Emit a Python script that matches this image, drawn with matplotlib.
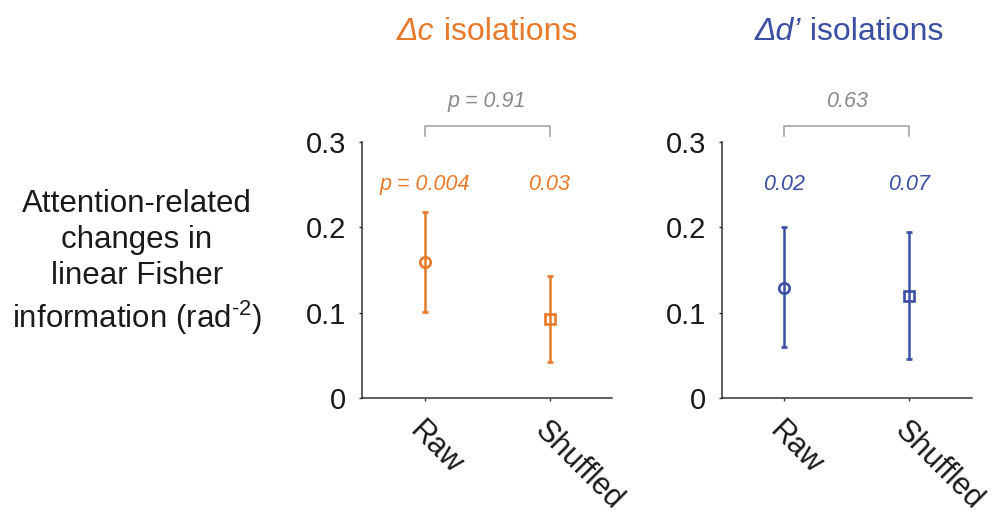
import numpy as np
import matplotlib
matplotlib.use("Agg")
import matplotlib.pyplot as plt
from matplotlib.transforms import ScaledTranslation

plt.rcParams['font.family'] = ['Liberation Sans', 'DejaVu Sans']
plt.rcParams['mathtext.fontset'] = 'custom'
plt.rcParams['mathtext.rm'] = 'Liberation Sans'
plt.rcParams['mathtext.it'] = 'Liberation Sans:italic'

# data
conditions = ['Raw', 'Shuffled']
c_mean = [0.159, 0.093]
c_low = [0.101, 0.042]
c_high = [0.218, 0.143]
c_pvals = ['p = 0.004', '0.03']
c_pdiff = 'p = 0.91'

d_mean = [0.129, 0.119]
d_low = [0.060, 0.046]
d_high = [0.200, 0.194]
d_pvals = ['0.02', '0.07']
d_pdiff = '0.63'

yticks = [0, 0.1, 0.2, 0.3]
ytick_labels = ['0', '0.1', '0.2', '0.3']

orange = '#E8792B'
blue = '#3B4FA3'
gray_txt = '#8A8A8A'
gray_line = '#A6A6A6'
dark = '#333333'

fig = plt.figure(figsize=(9.95, 5.18), dpi=100)
W, H = 995, 518
ax1 = fig.add_axes([362/W, 1-398/H, 250/W, 256/H])
ax2 = fig.add_axes([722/W, 1-398/H, 250/W, 256/H])

def draw_panel(ax, mean, low, high, pvals, pdiff, color):
    x = np.arange(1, len(mean)+1)
    mean = np.array(mean)
    err = [mean - np.array(low), np.array(high) - mean]
    markers = ['o', 's']
    sizes = [7.5, 6.8]
    for i in range(len(x)):
        ax.errorbar(x[i], mean[i], yerr=[[err[0][i]], [err[1][i]]], fmt=markers[i],
                    color=color, mfc='none', mec=color, ms=sizes[i], mew=1.9,
                    elinewidth=1.8, capsize=2.5, capthick=1.8)
        ax.text(x[i], 0.25, pvals[i], color=color, fontsize=15.5, style='italic',
                ha='center', va='center')
    # comparison bracket
    ax.plot([x[0], x[0], x[1], x[1]], [0.307, 0.319, 0.319, 0.307], color=gray_line,
            lw=1.2, clip_on=False)
    ax.text(x.mean(), 0.347, pdiff, color=gray_txt, fontsize=15.5, style='italic',
            ha='center', va='center')
    ax.set_xlim(0.5, 2.5)
    ax.set_ylim(0, 0.3)
    ax.set_yticks(yticks)
    ax.set_yticklabels(ytick_labels)
    ax.set_xticks(x)
    ax.set_xticklabels(conditions, rotation=-45, ha='left', va='top', rotation_mode='anchor')
    for lab in ax.get_xticklabels():
        lab.set_transform(lab.get_transform() + ScaledTranslation(-7/72, 0, fig.dpi_scale_trans))
        lab.set_fontsize(22)
    ax.tick_params(axis='both', direction='out', length=2.5, width=1, color=dark,
                   labelsize=21, labelcolor='#1a1a1a')
    ax.tick_params(axis='x', labelsize=22, pad=10)
    ax.tick_params(axis='y', pad=9)
    for s in ['top', 'right']:
        ax.spines[s].set_visible(False)
    for s in ['left', 'bottom']:
        ax.spines[s].set_color(dark)
        ax.spines[s].set_linewidth(1.1)

draw_panel(ax1, c_mean, c_low, c_high, c_pvals, c_pdiff, orange)
draw_panel(ax2, d_mean, d_low, d_high, d_pvals, d_pdiff, blue)

# titles: italic symbol + regular word, centred over each panel
renderer = fig.canvas.get_renderer()
def panel_title(xc, sym, word, color):
    t1 = fig.text(0, 1-40/H, sym, color=color, fontsize=23, style='italic',
                  ha='left', va='baseline')
    t2 = fig.text(0, 1-40/H, word, color=color, fontsize=23,
                  ha='left', va='baseline')
    w1 = t1.get_window_extent(renderer).width
    w2 = t2.get_window_extent(renderer).width
    x0 = xc - (w1 + w2) / 2
    t1.set_x(x0 / W)
    t2.set_x((x0 + w1) / W)

panel_title(487, 'Δc', ' isolations', orange)
panel_title(849, 'Δd’', ' isolations', blue)

fig.text(137/W, 1-263/H,
         'Attention-related\nchanges in\nlinear Fisher\ninformation (rad$^{\\text{-2}}$)',
         fontsize=22.5, ha='center', va='center', multialignment='center',
         linespacing=1.25, color='#1a1a1a')

fig.savefig('out.png', dpi=100)
